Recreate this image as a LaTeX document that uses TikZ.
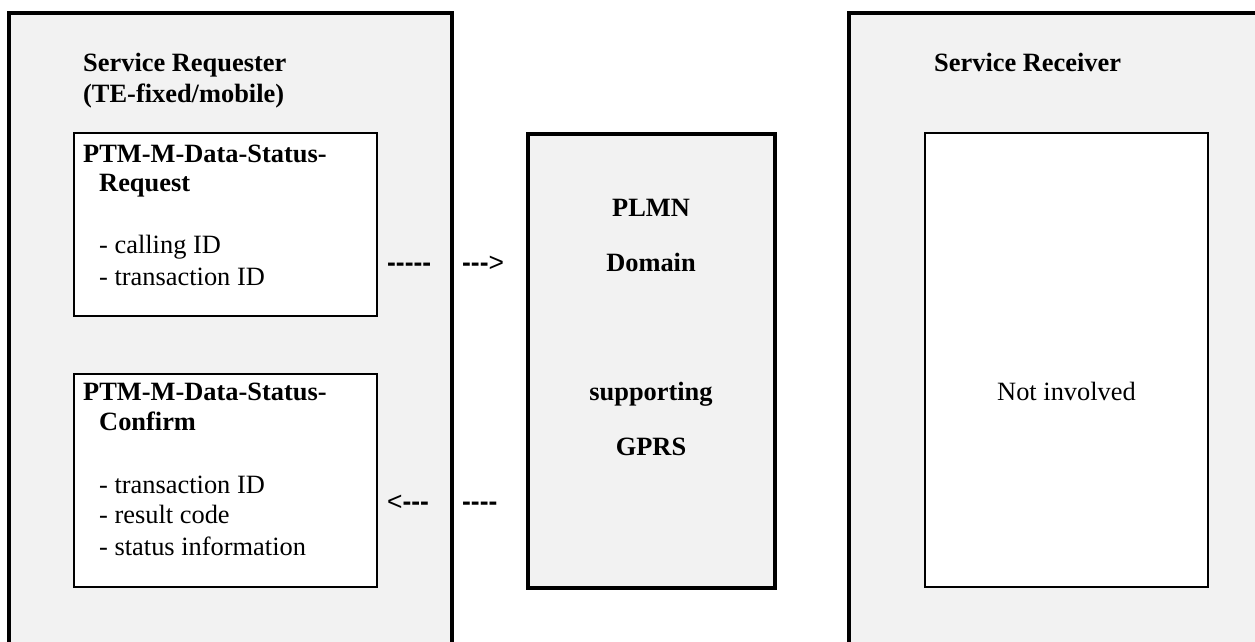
\documentclass[tikz,border=0pt]{standalone}
\usepackage{fontspec}
\setmainfont{Liberation Serif}
\newfontfamily\dashfont{Liberation Sans}
\definecolor{panel}{HTML}{F2F2F2}
\tikzset{
  heavy/.style={line width=4pt, draw=black},
  light/.style={line width=2pt, draw=black},
  whitebox/.style={light, fill=white, rectangle, inner sep=0pt},
  txt/.style={inner sep=0pt, font=\fontsize{26.4}{31}\selectfont},
  btxt/.style={txt, font=\fontsize{26.4}{31}\selectfont\bfseries},
  dtxt/.style={inner sep=0pt, font=\fontsize{26.4}{31}\selectfont\dashfont},
}
\newcommand{\hy}{{\bfseries-}}
\begin{document}
\begin{tikzpicture}[x=1pt, y=-1pt]
\useasboundingbox (0,0) rectangle (1255,641);
\begin{scope}
\clip (0,0) rectangle (1255,641);
% left outer panel (open at the bottom)
\fill[panel] (9,13) rectangle (452,660);
\draw[heavy] (9,660) -- (9,13) -- (452,13) -- (452,660);
% right outer panel (open at right and bottom)
\fill[panel] (849,13) rectangle (1270,660);
\draw[heavy] (849,660) -- (849,13) -- (1270,13);
\end{scope}
% middle box
\node[heavy, fill=panel, rectangle, inner sep=0pt, minimum width=246.5pt, minimum height=454pt] (plmn) at (651.25,361) {};
% inner white boxes
\node[whitebox, minimum width=303pt, minimum height=182.5pt] (req) at (225.5,224.25) {};
\node[whitebox, minimum width=303pt, minimum height=213pt] (conf) at (225.5,480.5) {};
\node[whitebox, minimum width=283pt, minimum height=454pt] (recv) at (1066.5,360) {};
% left panel titles
\node[btxt, anchor=base west] (t1) at (83,71) {Service Requester};
\node[btxt, anchor=base west] (t2) at (83,102) {(TE-fixed/mobile)};
% request box
\node[btxt, anchor=base west] (r1) at (83,162) {PTM-M-Data-Status-};
\node[btxt, anchor=base west] (r2) at (99,191) {Request};
\node[txt, anchor=base west] (r3) at (99,253) {- calling ID};
\node[txt, anchor=base west] (r4) at (99,285) {- transaction ID};
% confirm box
\node[btxt, anchor=base west] (c1) at (83,400) {PTM-M-Data-Status-};
\node[btxt, anchor=base west] (c2) at (99,430) {Confirm};
\node[txt, anchor=base west] (c3) at (99,493) {- transaction ID};
\node[txt, anchor=base west] (c4) at (99,523) {- result code};
\node[txt, anchor=base west] (c5) at (99,555) {- status information};
% dashed "arrows" as text
\node[dtxt, anchor=base west] (d1) at (387,271.5) {\hy\hy\hy\hy\hy};
\node[dtxt, anchor=base west] (d2) at (462,271.5) {\hy\hy\hy>};
\node[dtxt, anchor=base west] (d3) at (387,510.5) {<\hy\hy\hy};
\node[dtxt, anchor=base west] (d4) at (462,510.5) {\hy\hy\hy\hy};
% middle box text
\node[btxt, anchor=base] (m1) at (651,216) {PLMN};
\node[btxt, anchor=base] (m2) at (651,271) {Domain};
\node[btxt, anchor=base] (m3) at (651,400) {supporting};
\node[btxt, anchor=base] (m4) at (651,455) {GPRS};
% right panel
\node[btxt, anchor=base west] (s1) at (934,71) {Service Receiver};
\node[txt, anchor=base] (s2) at (1066.5,400) {Not involved};
\end{tikzpicture}
\end{document}
